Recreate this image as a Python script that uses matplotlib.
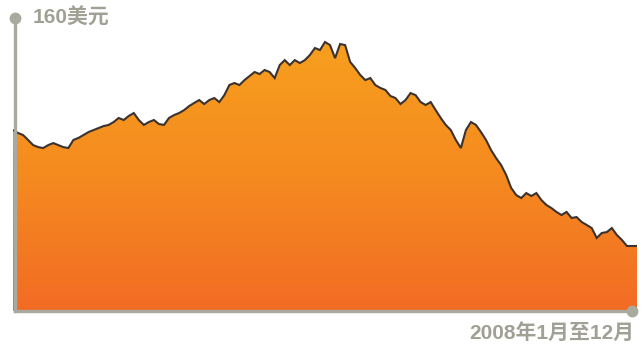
import numpy as np
import matplotlib
matplotlib.use("Agg")
import matplotlib.pyplot as plt
from matplotlib.colors import LinearSegmentedColormap

# price readings (USD), Jan - Dec 2008
prices = [
    98.8, 97.2, 96.1, 93.4, 90.6, 89.5, 89.0, 90.6, 91.7, 90.6,
    89.5, 89.0, 93.4, 94.5, 96.1, 97.7, 98.8, 99.9, 101.0, 101.6,
    103.2, 105.4, 104.3, 106.5, 108.1, 104.3, 101.6, 103.2, 104.3, 102.1,
    101.6, 105.4, 107.0, 108.1, 109.7, 111.9, 113.6, 115.2, 113.0, 115.2,
    116.3, 114.1, 117.9, 123.4, 124.5, 123.4, 126.1, 128.3, 130.5, 129.4,
    131.6, 130.5, 127.2, 134.3, 137.0, 134.3, 137.0, 135.4, 137.0, 139.8,
    143.6, 142.5, 146.9, 145.2, 138.1, 145.8, 145.2, 136.0, 132.7, 128.9,
    126.1, 127.2, 123.4, 121.8, 120.7, 117.4, 116.3, 113.0, 115.2, 119.0,
    117.9, 114.1, 112.5, 114.1, 109.7, 105.4, 101.6, 98.8, 93.4, 89.0,
    98.8, 103.2, 101.6, 97.7, 93.4, 87.9, 83.5, 79.7, 74.3, 67.2,
    63.3, 61.7, 64.4, 62.8, 64.4, 60.6, 57.9, 56.2, 54.1, 52.4,
    54.1, 50.8, 51.3, 48.6, 47.0, 45.3, 39.9, 42.6, 43.1, 45.3,
    41.5, 38.8, 35.5, 35.5, 35.5,
]
y_max = 160
top_label = "160美元"
bottom_label = "2008年1月至12月"

W, H = 643, 347
fig = plt.figure(figsize=(W / 100, H / 100), dpi=100)
ax = fig.add_axes([13 / W, (H - 311) / H, (637 - 13) / W, (311 - 18) / H])
ax.set_xlim(0, len(prices) - 1)
ax.set_ylim(0, y_max)
ax.axis("off")

x = np.arange(len(prices))
poly = ax.fill_between(x, prices, -3, color="none", lw=0)

cmap = LinearSegmentedColormap.from_list("orng", ["#F26A24", "#F58A20", "#F7A01E"])
grad = np.linspace(0, 1, 256).reshape(-1, 1)
img = ax.imshow(grad, aspect="auto", cmap=cmap, origin="lower",
                extent=[0, len(prices) - 1, -3, 150], zorder=1)
img.set_clip_path(poly.get_paths()[0], transform=ax.transData)

ax.plot(x, prices, color="#3a3330", lw=1.5, zorder=3, solid_joinstyle="miter")

# axis lines with dots
gray = "#A9A99E"
fig.add_artist(plt.Line2D([15 / W, 15 / W], [(H - 311) / H, (H - 18) / H],
                          color=gray, lw=2.4, transform=fig.transFigure))
fig.add_artist(plt.Line2D([15 / W, 632 / W], [(H - 311) / H, (H - 311) / H],
                          color=gray, lw=2.4, transform=fig.transFigure))
fig.add_artist(plt.Line2D([15 / W], [(H - 18) / H], marker="o", ms=7.5,
                          color=gray, transform=fig.transFigure))
fig.add_artist(plt.Line2D([632 / W], [(H - 311) / H], marker="o", ms=7.5,
                          color=gray, transform=fig.transFigure))

font = ["Liberation Sans", "Noto Sans CJK SC"]
fig.text(33 / W, (H - 18) / H, top_label, family=font, weight="bold",
         fontsize=15, color="#A0A094", va="center", ha="left")
fig.text(634 / W, (H - 333) / H, bottom_label, family=font, weight="bold",
         fontsize=15, color="#A0A094", va="center", ha="right")

fig.savefig("out.png", dpi=100)
